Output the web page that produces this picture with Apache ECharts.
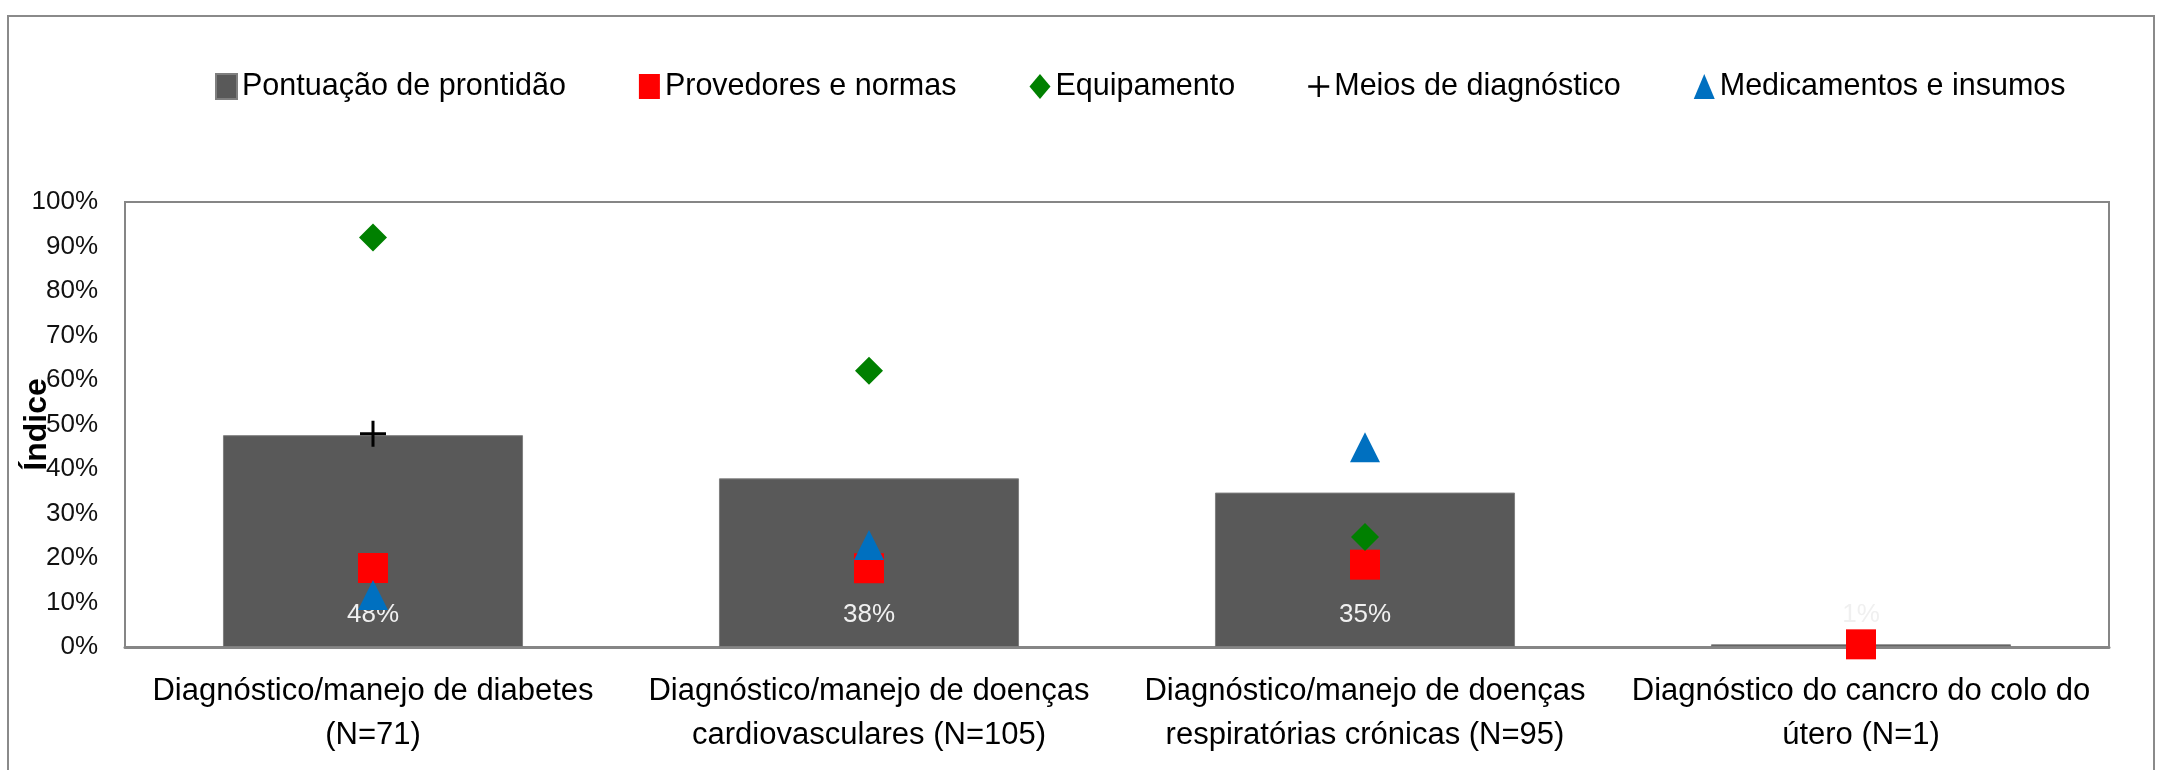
<!DOCTYPE html>
<html>
<head>
<meta charset="utf-8">
<script src="https://cdn.jsdelivr.net/npm/echarts@6/dist/echarts.min.js"></script>
<style>
  html, body { margin: 0; padding: 0; background: #fff; }
  #main { width: 2162px; height: 770px; }
</style>
</head>
<body>
<div id="main"></div>
<script>
// categorias e valores
var categories = [
  'Diagnóstico/manejo de diabetes\n(N=71)',
  'Diagnóstico/manejo de doenças\ncardiovasculares (N=105)',
  'Diagnóstico/manejo de doenças\nrespiratórias crónicas (N=95)',
  'Diagnóstico do cancro do colo do\nútero (N=1)'
];
var prontidao = [0.476, 0.379, 0.347, 0.006];
var provedores = [0.1775, 0.177, 0.185, 0.006];
var equipamento = [0.92, 0.621, 0.247, '-'];
var meios = [0.479, '-', '-', '-'];
var medicamentos = [0.117, 0.229, 0.449, '-'];
var yTicks = [0, 10, 20, 30, 40, 50, 60, 70, 80, 90, 100];

var FONT = "'Liberation Sans', Arial, sans-serif";
var plusPath = 'path://M11.5,0h3v11.5h11.5v3h-11.5v11.5h-3v-11.5h-11.5v-3h11.5z';

var myChart = echarts.init(document.getElementById('main'));
myChart.setOption({
  animation: false,
  backgroundColor: '#fff',
  textStyle: { fontFamily: FONT },
  graphic: [{
    type: 'rect',
    shape: { x: 8, y: 16, width: 2146, height: 780 },
    style: { fill: 'none', stroke: '#8a8a8a', lineWidth: 2 }
  }],
  legend: {
    left: 210,
    top: 66,
    itemGap: 73,
    itemWidth: 21,
    itemHeight: 25,
    textStyle: { fontSize: 30.5, color: '#000', fontFamily: FONT },
    data: [
      { name: 'Pontuação de prontidão', icon: 'rect' },
      { name: 'Provedores e normas', icon: 'rect' },
      { name: 'Equipamento', icon: 'diamond' },
      { name: 'Meios de diagnóstico', icon: plusPath },
      { name: 'Medicamentos e insumos', icon: 'triangle' }
    ]
  },
  grid: {
    left: 125,
    right: 53,
    top: 202,
    bottom: 123,
    containLabel: false,
    outerBoundsMode: 'none',
    show: true,
    borderColor: '#868686',
    borderWidth: 2
  },
  xAxis: {
    type: 'category',
    data: categories,
    axisLine: { lineStyle: { color: '#868686', width: 3 } },
    axisTick: { length: 12, lineStyle: { color: '#868686', width: 2 } },
    axisLabel: {
      interval: 0,
      margin: 22,
      fontSize: 31,
      lineHeight: 44,
      color: '#000',
      fontFamily: FONT,
      align: 'center'
    }
  },
  yAxis: {
    type: 'value',
    min: 0,
    max: 1,
    interval: 0.1,
    name: 'Índice',
    nameLocation: 'middle',
    nameGap: 72,
    nameMoveOverlap: false,
    nameRotate: 90,
    nameTextStyle: { fontSize: 32, fontWeight: 'bold', color: '#000', fontFamily: FONT },
    axisLine: { show: false },
    axisTick: { show: false },
    splitLine: { show: false },
    axisLabel: {
      margin: 27,
      fontSize: 26,
      color: '#111',
      fontFamily: FONT,
      formatter: function (v) { return yTicks[Math.round(v * 10)] + '%'; }
    }
  },
  series: [
    {
      name: 'Pontuação de prontidão',
      type: 'bar',
      data: prontidao,
      barWidth: '60.5%',
      itemStyle: { color: '#595959', borderColor: '#7f7f7f', borderWidth: 1 },
      label: {
        show: true,
        position: 'insideBottom',
        distance: 19,
        fontSize: 26,
        fontFamily: FONT,
        color: '#f0f0f0',
        formatter: function (p) { return Math.round(p.value * 100) + '%'; }
      }
    },
    {
      name: 'Provedores e normas',
      type: 'scatter',
      data: provedores,
      symbol: 'rect',
      symbolSize: 30,
      itemStyle: { color: '#ff0000', opacity: 1 }
    },
    {
      name: 'Equipamento',
      type: 'scatter',
      data: equipamento,
      symbol: 'diamond',
      symbolSize: 28,
      itemStyle: { color: '#008000', opacity: 1 }
    },
    {
      name: 'Meios de diagnóstico',
      type: 'scatter',
      data: meios,
      symbol: plusPath,
      symbolSize: 26,
      itemStyle: { color: '#000', opacity: 1 }
    },
    {
      name: 'Medicamentos e insumos',
      type: 'scatter',
      data: medicamentos,
      symbol: 'triangle',
      symbolSize: 30,
      itemStyle: { color: '#0070c0', opacity: 1 }
    }
  ]
});
</script>
</body>
</html>
